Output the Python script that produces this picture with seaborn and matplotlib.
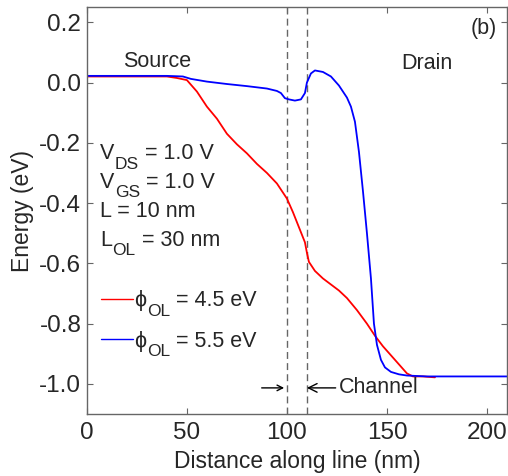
import numpy as np
import pandas as pd
import matplotlib.pyplot as plt
import seaborn as sns

# Band profile (distance in nm, energy in eV)
x_red = [0, 20, 40, 45, 50, 55, 60, 65, 70, 75, 80, 85, 90, 95, 100, 103, 106, 109, 110,
         111, 114, 118, 122, 126, 130, 135, 140, 144, 148, 152, 156, 160, 163, 168, 174]
e_red = [0.02, 0.02, 0.02, 0.015, 0.008, -0.03, -0.08, -0.12, -0.17, -0.205, -0.235,
         -0.27, -0.30, -0.335, -0.385, -0.43, -0.48, -0.53, -0.565,
         -0.595, -0.625, -0.65, -0.67, -0.69, -0.715, -0.755, -0.80, -0.84, -0.875,
         -0.905, -0.935, -0.965, -0.975, -0.975, -0.978]

x_blue = [0, 20, 40, 48, 52, 60, 70, 80, 90, 95, 97, 99, 101, 104, 107, 109, 110, 112,
          114, 118, 122, 126, 130, 132, 134, 136, 138, 140, 142, 143.5, 145, 147, 149,
          152, 156, 160, 170, 180, 190, 200, 210]
e_blue = [0.022, 0.022, 0.022, 0.02, 0.012, 0.003, -0.005, -0.012, -0.02, -0.028, -0.035,
          -0.052, -0.056, -0.06, -0.056, -0.035, 0.0, 0.03, 0.04, 0.035, 0.02, -0.01,
          -0.05, -0.08, -0.13, -0.23, -0.36, -0.5, -0.65, -0.8, -0.87, -0.92, -0.945,
          -0.96, -0.968, -0.972, -0.975, -0.975, -0.975, -0.975, -0.975]

phi_values = ['4.5', '5.5']
params = [('V', 'DS', ' = 1.0 V'), ('V', 'GS', ' = 1.0 V'),
          ('L = 10 nm', '', ''), ('L', 'OL', ' = 30 nm')]
channel_edges = [100, 110]

labels = ['case %s' % v for v in phi_values]
df = pd.concat([
    pd.DataFrame({'x': x_red, 'E': e_red, 'case': labels[0]}),
    pd.DataFrame({'x': x_blue, 'E': e_blue, 'case': labels[1]}),
])

sns.set_style('ticks')
plt.rcParams['font.family'] = ['Liberation Sans', 'DejaVu Sans']

FS = 15.5
SUB = 12.5

fig = plt.figure(figsize=(5.08, 4.76), dpi=100)
ax = fig.add_axes([0.171, 0.130, 0.827, 0.855])

sns.lineplot(data=df, x='x', y='E', hue='case', palette=['red', 'blue'],
             linewidth=1.3, sort=False, ax=ax, legend=False)

for xe in channel_edges:
    ax.axvline(xe, color='0.4', ls='--', lw=1.0, dashes=(5, 3), zorder=0)

ax.set_xlim(0, 210)
ax.set_ylim(-1.1, 0.25)
ax.set_xticks([0, 50, 100, 150, 200])
ax.set_yticks([0.2, 0.0, -0.2, -0.4, -0.6, -0.8, -1.0])
ax.set_yticklabels(['0.2', '0.0', '-0.2', '-0.4', '-0.6', '-0.8', '-1.0'])
ax.tick_params(direction='in', top=True, right=True, labelsize=17.5, length=4,
               color='0.4', pad=4)
ax.tick_params(axis='x', pad=6)
for s in ax.spines.values():
    s.set_color('0.4')
    s.set_linewidth(1.0)

ax.set_xlabel('Distance along line (nm)', fontsize=16.5, labelpad=4)
ax.set_ylabel('Energy (eV)', fontsize=16.5, labelpad=4)


def sub_label(anchor, sub, rest, z=3):
    # subscript and trailing text chained after an existing text artist
    s = ax.annotate(sub, xy=(1, 0), xycoords=anchor, xytext=(0.5, -5.5),
                    textcoords='offset points', fontsize=SUB, va='bottom',
                    ha='left', zorder=z)
    ax.annotate(rest, xy=(1, 0), xycoords=(s, anchor), fontsize=FS,
                va='bottom', ha='left', zorder=z)


ax.text(35, 0.07, 'Source', fontsize=FS, ha='center', va='center')
ax.text(170, 0.063, 'Drain', fontsize=FS, ha='center', va='center')
ax.text(198.5, 0.18, '(b)', fontsize=FS, ha='center', va='center')

for i, (base, sub, rest) in enumerate(params):
    t = ax.text(6.5, -0.27 - i * 0.096, base, fontsize=FS, ha='left', va='bottom')
    if sub:
        sub_label(t, sub, rest)

leg = ax.legend(handles=ax.get_lines()[:2], labels=['\u03d5', '\u03d5'],
                loc='upper left', bbox_to_anchor=(0.012, 0.325), frameon=False,
                fontsize=FS, handlelength=1.5, handletextpad=0.05,
                labelspacing=0.9, borderaxespad=0)
for line in leg.get_lines():
    line.set_linewidth(1.0)
fig.canvas.draw()
for txt, v in zip(leg.get_texts(), phi_values):
    sub_label(txt, 'OL', ' = %s eV' % v, z=6)

ax.annotate('', xy=(100, -1.013), xytext=(86, -1.013),
            arrowprops=dict(arrowstyle='->', color='black', lw=1.0))
ax.annotate('Channel', xy=(110, -1.013), xytext=(126, -1.013), fontsize=FS,
            va='center', ha='left',
            arrowprops=dict(arrowstyle='->', color='black', lw=1.0, shrinkA=0, shrinkB=0))

fig.savefig('out.png', dpi=100)
